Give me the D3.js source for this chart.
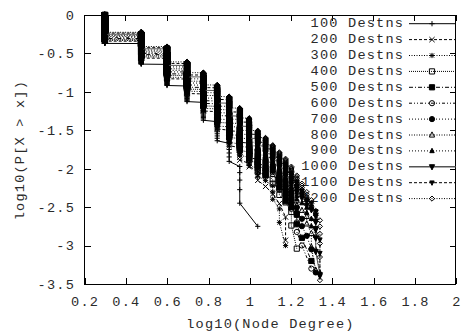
<!DOCTYPE html>
<html>
<head>
<meta charset="utf-8">
<script src="https://cdn.jsdelivr.net/npm/d3@7"></script>
<style>
  body { margin: 0; background: #fff; }
  text { font-family: "Liberation Mono", "Courier New", monospace; font-size: 13.6px; letter-spacing: 1.2px; fill: #2a2a2a; }
</style>
</head>
<body>
<svg id="chart" width="467" height="332"></svg>
<script>
// node degree categories (x = log10 of these)
const degrees = [2, 3, 4, 5, 6, 7, 8, 9, 10, 11, 12, 13, 14, 15, 16, 17, 18, 19, 20, 21, 22];

const seriesNames = ["100 Destns", "200 Destns", "300 Destns", "400 Destns", "500 Destns", "600 Destns",
  "700 Destns", "800 Destns", "900 Destns", "1000 Destns", "1100 Destns", "1200 Destns"];

// log10(P[X > x]) after the last node of each degree (null = no node of that degree);
// the final value is the last node, log10(1/N)
const ccdf100 = [-0.37, -0.64, -0.92, -1.13, -1.37, -1.62, -1.92, -2.45, null, -2.75];
const ccdf200 = [-0.34, -0.56, -0.83, -1.02, -1.25, -1.48, -1.70, -1.87, -2.00, -2.15, -2.23, -2.33, -2.46, -2.93];
const ccdf300 = [-0.33, -0.545, -0.81, -0.99, -1.215, -1.44, -1.65, -1.82, -1.95, -2.09, -2.18, -2.38, -2.62, -3.00];
const ccdf400 = [-0.32, -0.53, -0.785, -0.965, -1.18, -1.395, -1.60, -1.765, -1.90, -2.04, -2.10, -2.18, -2.32, -2.43, -2.73, -3.04];
const ccdf500 = [-0.305, -0.515, -0.765, -0.94, -1.15, -1.355, -1.555, -1.71, -1.85, -1.98, -2.07, -2.10, -2.25, -2.40, -2.52, -2.67, -2.86, -3.00, -3.20];
const ccdf600 = [-0.295, -0.50, -0.74, -0.91, -1.115, -1.31, -1.505, -1.66, -1.80, -1.93, -2.01, -2.06, -2.20, -2.34, -2.55, -2.78, -2.93, -3.10, -3.30];
const ccdf700 = [-0.28, -0.485, -0.72, -0.885, -1.08, -1.27, -1.455, -1.605, -1.75, -1.87, -1.96, -2.02, -2.15, -2.28, -2.45, -2.60, -2.75, -2.95, -3.10, -3.35];
const ccdf800 = [-0.27, -0.47, -0.70, -0.86, -1.045, -1.23, -1.405, -1.55, -1.70, -1.81, -1.91, -1.98, -2.10, -2.22, -2.36, -2.45, -2.52, -2.70, -3.00, -3.32];
const ccdf900 = [-0.26, -0.455, -0.675, -0.83, -1.01, -1.185, -1.355, -1.50, -1.65, -1.76, -1.85, -1.94, -2.05, -2.16, -2.28, -2.38, -2.45, -2.55, -2.70, -3.00, -3.35];
const ccdf1000 = [-0.25, -0.44, -0.655, -0.805, -0.98, -1.145, -1.31, -1.445, -1.60, -1.70, -1.80, -1.89, -1.99, -2.10, -2.21, -2.31, -2.40, -2.48, -2.55, -3.04, -3.38];
const ccdf1100 = [-0.235, -0.425, -0.63, -0.78, -0.945, -1.10, -1.26, -1.39, -1.55, -1.65, -1.74, -1.84, -1.93, -2.03, -2.14, -2.24, -2.34, -2.42, -2.50, -2.75, -3.40];
const ccdf1200 = [-0.225, -0.41, -0.61, -0.75, -0.91, -1.06, -1.21, -1.34, -1.50, -1.59, -1.69, -1.78, -1.86, -1.96, -2.07, -2.17, -2.28, -2.38, -2.48, -2.60, -3.45];

const xTicks = [0.2, 0.4, 0.6, 0.8, 1, 1.2, 1.4, 1.6, 1.8, 2];
const yTicks = [0, -0.5, -1, -1.5, -2, -2.5, -3, -3.5];

const allLevels = [ccdf100, ccdf200, ccdf300, ccdf400, ccdf500, ccdf600,
  ccdf700, ccdf800, ccdf900, ccdf1000, ccdf1100, ccdf1200];

// gnuplot-like line / point types
const styles = [
  { dash: null, pt: "plus", fill: false },
  { dash: "3,2", pt: "cross", fill: false },
  { dash: "1,1.5", pt: "star", fill: false },
  { dash: "1,1", pt: "square", fill: false },
  { dash: "4,2,1,2", pt: "square", fill: true },
  { dash: "3,2,1,2,1,2", pt: "circle", fill: false },
  { dash: "1,2", pt: "circle", fill: true },
  { dash: "1,1.5", pt: "triangle", fill: false },
  { dash: "1,2", pt: "triangle", fill: true, r: 2.2 },
  { dash: null, pt: "invtri", fill: true, color: "#555" },
  { dash: "3,2", pt: "invtri", fill: true, r: 2.2 },
  { dash: "1,1.5", pt: "diamond", fill: false }
];

const width = 467, height = 332;
const margin = { left: 84, right: 11.3, top: 15, bottom: 48 };

const svg = d3.select("#chart");

const x = d3.scaleLinear().domain([0.2, 2]).range([margin.left, width - margin.right]);
const y = d3.scaleLinear().domain([-3.5, 0]).range([height - margin.bottom, margin.top]);

function marker(type, cx, cy, r) {
  switch (type) {
    case "plus": return `M${cx - r},${cy}h${2 * r}M${cx},${cy - r}v${2 * r}`;
    case "cross": return `M${cx - r},${cy - r}l${2 * r},${2 * r}M${cx - r},${cy + r}l${2 * r},${-2 * r}`;
    case "star": return marker("plus", cx, cy, r) + marker("cross", cx, cy, r * 0.8);
    case "square": return `M${cx - r},${cy - r}h${2 * r}v${2 * r}h${-2 * r}Z`;
    case "circle": return `M${cx - r},${cy}a${r},${r} 0 1,0 ${2 * r},0a${r},${r} 0 1,0 ${-2 * r},0`;
    case "triangle": return `M${cx},${cy - r * 1.2}L${cx + r},${cy + r * 0.8}L${cx - r},${cy + r * 0.8}Z`;
    case "invtri": return `M${cx},${cy + r * 1.2}L${cx + r},${cy - r * 0.8}L${cx - r},${cy - r * 0.8}Z`;
    case "diamond": return `M${cx},${cy - r}L${cx + r},${cy}L${cx},${cy + r}L${cx - r},${cy}Z`;
  }
  return "";
}

// expand the step levels back into one point per node (sorted by degree)
function nodePoints(levels) {
  const last = levels.filter(v => v != null).pop();
  const N = Math.round(Math.pow(10, -last));
  const pts = [];
  let m = N + 1;
  levels.forEach((lv, k) => {
    if (lv == null) return;
    const mEnd = Math.max(1, Math.round(N * Math.pow(10, lv)));
    const xv = Math.log10(degrees[k]);
    for (let j = m - 1; j >= mEnd; j--) pts.push({ x: xv, y: Math.log10(j / N) });
    m = Math.min(m, mEnd);
  });
  return pts;
}

// axes (ticks point inward, mirrored on all four sides)
const fmt = d => String(+d.toFixed(1));
const tick = 6;

svg.append("g")
  .attr("transform", `translate(0.6,${y(-3.5)})`)
  .call(d3.axisBottom(x).tickValues(xTicks).tickSize(-tick).tickPadding(12).tickFormat(fmt))
  .call(g => g.select(".domain").remove());

svg.append("g")
  .attr("transform", `translate(0,${y(0)})`)
  .call(d3.axisTop(x).tickValues(xTicks).tickSize(-tick).tickFormat(""))
  .call(g => g.select(".domain").remove());

svg.append("g")
  .attr("transform", `translate(${x(0.2) + 1},0)`)
  .call(d3.axisLeft(y).tickValues(yTicks).tickSize(-tick).tickPadding(10).tickFormat(fmt))
  .call(g => g.select(".domain").remove());

svg.append("g")
  .attr("transform", `translate(${x(2)},0)`)
  .call(d3.axisRight(y).tickValues(yTicks).tickSize(-tick).tickFormat(""))
  .call(g => g.select(".domain").remove());

svg.selectAll(".tick line").attr("stroke", "#000").attr("shape-rendering", "crispEdges");
svg.selectAll("g").attr("font-family", null).attr("font-size", null);

svg.append("rect")
  .attr("x", x(0.2)).attr("y", y(0))
  .attr("width", x(2) - x(0.2)).attr("height", y(-3.5) - y(0))
  .attr("fill", "none").attr("stroke", "#000").attr("shape-rendering", "crispEdges");

svg.append("text")
  .attr("x", (x(0.2) + x(2)) / 2 + 0.6).attr("y", 324)
  .attr("text-anchor", "middle").attr("dominant-baseline", "central")
  .text("log10(Node Degree)");

svg.append("text")
  .attr("transform", `translate(20,${(y(0) + y(-3.5)) / 2 + 0.6}) rotate(-90)`)
  .attr("text-anchor", "middle").attr("dominant-baseline", "central")
  .text("log10(P[X > x])");

// legend text
const legendX = 404.2, legendY0 = 23.7, legendDy = 15.9;
svg.append("g").selectAll("text")
  .data(seriesNames)
  .join("text")
  .attr("x", legendX)
  .attr("y", (d, i) => legendY0 + i * legendDy)
  .attr("text-anchor", "end")
  .attr("dominant-baseline", "central")
  .text(d => d);

const line = d3.line().x(d => x(d.x)).y(d => y(d.y));

allLevels.forEach((levels, i) => {
  const st = styles[i];
  const col = st.color || "#000";
  const r = st.r || 2.6;
  const pts = nodePoints(levels);
  const g = svg.append("g");

  g.append("path")
    .attr("d", line(pts))
    .attr("fill", "none")
    .attr("stroke", col)
    .attr("stroke-width", 1)
    .attr("stroke-dasharray", st.dash);

  g.append("path")
    .attr("d", pts.map(p => marker(st.pt, x(p.x), y(p.y), r)).join(""))
    .attr("fill", st.fill ? "#000" : "none")
    .attr("stroke", "#000")
    .attr("stroke-width", 1);

  // legend sample
  const ly = legendY0 + i * legendDy;
  g.append("line")
    .attr("x1", 409).attr("x2", x(2))
    .attr("y1", ly).attr("y2", ly)
    .attr("stroke", col)
    .attr("stroke-width", i === 9 ? 1.5 : 1)
    .attr("stroke-dasharray", st.dash);
  g.append("path")
    .attr("d", marker(st.pt, 432, ly, r))
    .attr("fill", st.fill ? "#000" : "none")
    .attr("stroke", "#000");
});
</script>
</body>
</html>
